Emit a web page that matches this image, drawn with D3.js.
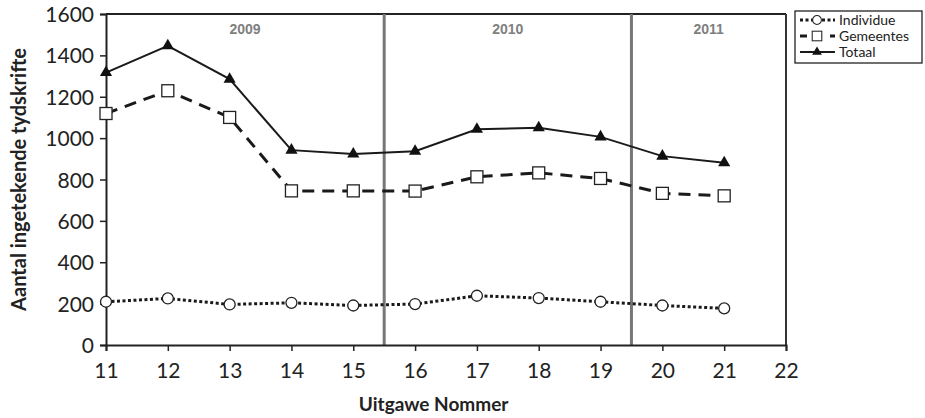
<!DOCTYPE html>
<html>
<head>
<meta charset="utf-8">
<script src="https://cdn.jsdelivr.net/npm/d3@7"></script>
<style>
  body { margin: 0; background: #fff; }
  svg { display: block; }
</style>
</head>
<body>
<svg id="chart" width="925" height="418"></svg>
<script>
// Data
const issues = [11, 12, 13, 14, 15, 16, 17, 18, 19, 20, 21];
const individue = [209, 225, 196, 204, 191, 198, 238, 227, 209, 191, 177];
const gemeentes = [1119, 1229, 1100, 745, 745, 744, 813, 832, 805, 733, 721];
const totaal = [1317, 1446, 1285, 942, 923, 937, 1043, 1050, 1006, 913, 881];
const yearLabels = ["2009", "2010", "2011"];
const yearCenters = [13.25, 17.5, 20.75];
const yearBreaks = [15.5, 19.5];
const yTicks = [0, 200, 400, 600, 800, 1000, 1200, 1400, 1600];
const xTicks = [11, 12, 13, 14, 15, 16, 17, 18, 19, 20, 21, 22];

const svg = d3.select("#chart");
const margin = { top: 14, right: 139, bottom: 73, left: 106 };
const width = 925 - margin.left - margin.right;
const height = 418 - margin.top - margin.bottom;

const g = svg.append("g").attr("transform", `translate(${margin.left},${margin.top})`);

const x = d3.scaleLinear().domain([11, 22]).range([0, width]);
const y = d3.scaleLinear().domain([0, 1600]).range([height, 0]);

const tickFont = "Lato, 'Open Sans', sans-serif";

// frame: top and right borders
g.append("line").attr("x1", 0).attr("x2", width).attr("y1", 0).attr("y2", 0)
  .attr("stroke", "#222").attr("stroke-width", 2);
g.append("line").attr("x1", width).attr("x2", width).attr("y1", 0).attr("y2", height)
  .attr("stroke", "#333").attr("stroke-width", 2);

// year separators
g.selectAll(".year-break").data(yearBreaks).join("line")
  .attr("class", "year-break")
  .attr("x1", d => x(d)).attr("x2", d => x(d))
  .attr("y1", 0).attr("y2", height)
  .attr("stroke", "#777").attr("stroke-width", 3);

g.selectAll(".year-label").data(yearLabels).join("text")
  .attr("class", "year-label")
  .attr("x", (d, i) => x(yearCenters[i]))
  .attr("y", 20)
  .attr("text-anchor", "middle")
  .attr("font-family", "'Liberation Sans', Arial, sans-serif")
  .attr("font-weight", "bold")
  .attr("font-size", 14)
  .attr("fill", "#808080")
  .text(d => d);

// axes
const yAxis = g.append("g")
  .call(d3.axisLeft(y).tickValues(yTicks).tickFormat(d3.format("d")).tickSize(6).tickPadding(6));
const xAxis = g.append("g")
  .attr("transform", `translate(0,${height})`)
  .call(d3.axisBottom(x).tickValues(xTicks).tickSize(6).tickPadding(12));

[xAxis, yAxis].forEach(a => {
  a.select(".domain").attr("stroke", "#222").attr("stroke-width", 2);
  a.selectAll(".tick line").attr("stroke", "#222").attr("stroke-width", 1.5);
  a.selectAll(".tick text")
    .attr("font-family", tickFont)
    .attr("font-size", 21)
    .attr("fill", "#222");
});
yAxis.selectAll(".tick text").attr("dy", "0.36em");

// axis titles
svg.append("text")
  .attr("transform", `translate(26,${margin.top + height / 2}) rotate(-90)`)
  .attr("text-anchor", "middle")
  .attr("font-family", tickFont)
  .attr("font-weight", "bold")
  .attr("font-size", 20)
  .attr("fill", "#222")
  .text("Aantal ingetekende tydskrifte");

svg.append("text")
  .attr("x", margin.left + x(16.3))
  .attr("y", 411)
  .attr("text-anchor", "middle")
  .attr("font-family", tickFont)
  .attr("font-weight", "bold")
  .attr("font-size", 19)
  .attr("fill", "#222")
  .text("Uitgawe Nommer");

// series
const series = [
  { name: "Individue", values: individue, dash: "3,2.5", width: 3, marker: "circle" },
  { name: "Gemeentes", values: gemeentes, dash: "12,8", width: 3, marker: "square" },
  { name: "Totaal", values: totaal, dash: null, width: 2, marker: "triangle" }
];

const line = d3.line().x(d => x(d[0])).y(d => y(d[1]));

function drawMarker(sel, type) {
  if (type === "circle") {
    sel.append("circle").attr("r", 5.5).attr("fill", "#fff").attr("stroke", "#222").attr("stroke-width", 1.3);
  } else if (type === "square") {
    sel.append("rect").attr("x", -6).attr("y", -6).attr("width", 12).attr("height", 12)
      .attr("fill", "#fff").attr("stroke", "#222").attr("stroke-width", 1.3);
  } else {
    sel.append("path").attr("d", d3.symbol(d3.symbolTriangle, 64)()).attr("fill", "#111");
  }
}

series.forEach(s => {
  const pts = issues.map((d, i) => [d, s.values[i]]);
  g.append("path")
    .datum(pts)
    .attr("d", line)
    .attr("fill", "none")
    .attr("stroke", "#1a1a1a")
    .attr("stroke-width", s.width)
    .attr("stroke-dasharray", s.dash);
  g.selectAll(null).data(pts).join("g")
    .attr("transform", d => `translate(${x(d[0])},${y(d[1])})`)
    .each(function() { drawMarker(d3.select(this), s.marker); });
});

// legend
const legend = svg.append("g").attr("transform", "translate(795,11)");
legend.append("rect").attr("x", 0).attr("y", 0).attr("width", 127).attr("height", 52)
  .attr("fill", "#fff").attr("stroke", "#222").attr("stroke-width", 1.3);
series.forEach((s, i) => {
  const row = legend.append("g").attr("transform", `translate(0,${9 + i * 16})`);
  row.append("line").attr("x1", 5).attr("x2", 40).attr("y1", 0).attr("y2", 0)
    .attr("stroke", "#1a1a1a").attr("stroke-width", s.width)
    .attr("stroke-dasharray", s.dash ? (s.marker === "circle" ? "3,2.5" : "7,8") : null);
  const m = row.append("g").attr("transform", "translate(22,0) scale(0.8)");
  drawMarker(m, s.marker);
  row.append("text").attr("x", 44).attr("y", 0).attr("dy", "0.35em")
    .attr("font-family", tickFont).attr("font-size", 14).attr("fill", "#222")
    .text(s.name);
});
</script>
</body>
</html>
